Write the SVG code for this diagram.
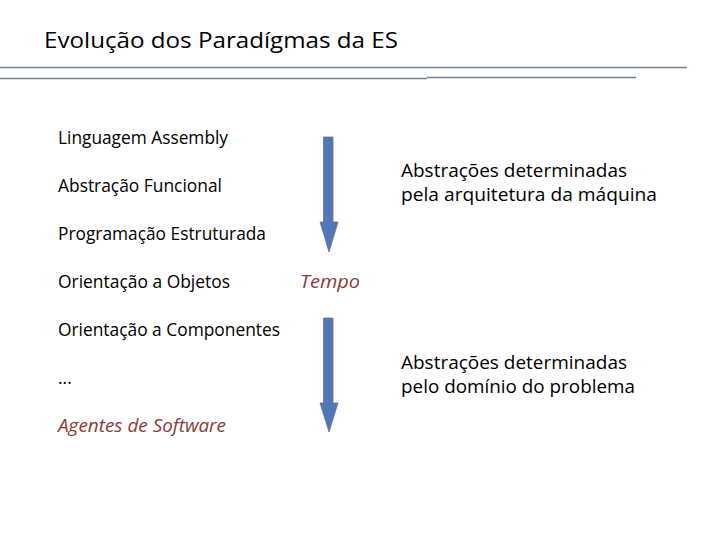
<svg xmlns="http://www.w3.org/2000/svg" width="720" height="540" viewBox="0 0 720 540">
<style>
.t{font-family:"Open Sans","Liberation Sans",sans-serif;font-size:17.5px;fill:#000}
.i{font-style:italic;fill:#8b3a3a}
.ln{stroke:#6b8396;stroke-width:1.3;fill:none}
.ar{fill:#4f78b8;stroke:#7a6a90;stroke-width:0.8}
</style>
<rect width="720" height="540" fill="#fff"/>
<g id="title">
<text x="44" y="48" font-family="'Open Sans','Liberation Sans',sans-serif" font-size="21.5" textLength="354" lengthAdjust="spacingAndGlyphs">Evolução dos Paradígmas da ES</text>
<line class="ln" x1="0" y1="67.5" x2="687" y2="67.5"/>
<line class="ln" x1="0" y1="78.5" x2="427" y2="78.5"/>
<line class="ln" x1="427" y1="77.5" x2="636" y2="77.5"/>
</g>
<g id="list">
<text class="t" x="58" y="144" textLength="170" lengthAdjust="spacingAndGlyphs">Linguagem Assembly</text>
<text class="t" x="58" y="192" textLength="164" lengthAdjust="spacingAndGlyphs">Abstração Funcional</text>
<text class="t" x="58" y="240" textLength="208" lengthAdjust="spacingAndGlyphs">Programação Estruturada</text>
<text class="t" x="58" y="288" textLength="172" lengthAdjust="spacingAndGlyphs">Orientação a Objetos</text>
<text class="t" x="58" y="336" textLength="222" lengthAdjust="spacingAndGlyphs">Orientação a Componentes</text>
<text class="t" x="58" y="384">...</text>
<text class="t i" x="58" y="432" textLength="168" lengthAdjust="spacingAndGlyphs">Agentes de Software</text>
</g>
<g id="tempo">
<text class="t i" x="300" y="288" textLength="60" lengthAdjust="spacingAndGlyphs">Tempo</text>
</g>
<g id="right">
<text class="t" x="401" y="177" textLength="226" lengthAdjust="spacingAndGlyphs">Abstrações determinadas</text>
<text class="t" x="401" y="201" textLength="256" lengthAdjust="spacingAndGlyphs">pela arquitetura da máquina</text>
<text class="t" x="401" y="369" textLength="226" lengthAdjust="spacingAndGlyphs">Abstrações determinadas</text>
<text class="t" x="401" y="393" textLength="234" lengthAdjust="spacingAndGlyphs">pelo domínio do problema</text>
</g>
<g id="connectors">
<path id="arrow1" class="ar" d="M323.5,137 H333 V222 H338 L329,252 L320,222 H323.5 Z"/>
<path id="arrow2" class="ar" d="M323.5,318 H333 V403 H338 L329,432 L320,403 H323.5 Z"/>
</g>
</svg>
